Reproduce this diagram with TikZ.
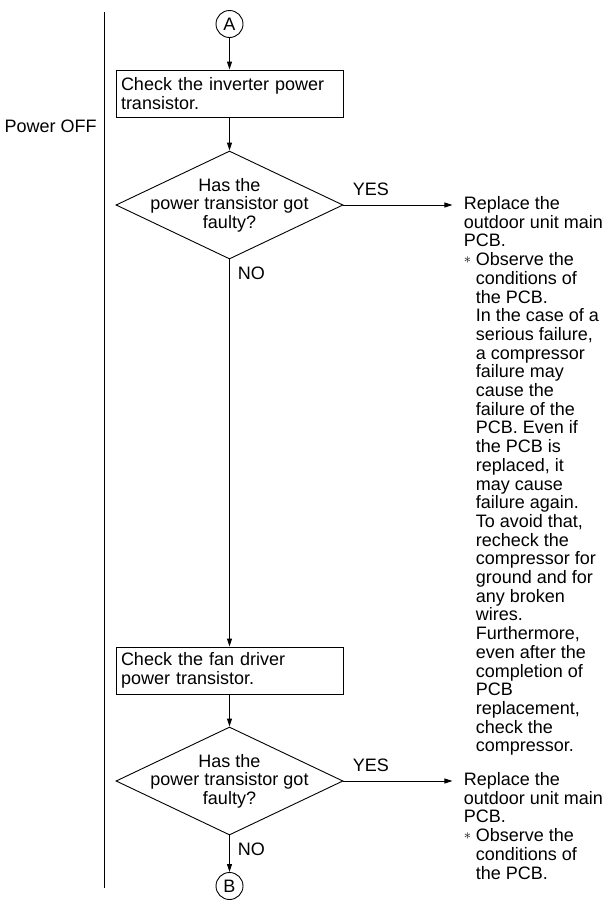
\documentclass[tikz,border=0pt]{standalone}
\usepackage{fontspec}
\setmainfont{Liberation Sans}
\usetikzlibrary{arrows.meta, shapes.geometric, positioning}

\begin{document}
\begin{tikzpicture}[
    x=1pt, y=-1pt,
    line width=0.9pt,
    font=\fontsize{18}{18.5}\selectfont,
    box/.style={draw, rectangle, align=left, text width=217pt, inner xsep=5pt, inner ysep=0pt, minimum height=47pt},
    decision/.style={draw, diamond, minimum width=227pt, minimum height=108pt, inner sep=0pt},
    connector/.style={draw, circle, minimum size=27pt, inner sep=0pt},
    question/.style={align=center, inner sep=0pt},
    remark/.style={align=left, inner sep=0pt, font=\fontsize{18}{18.7}\selectfont},
    arr/.style={-{Triangle[length=8pt, width=5pt]}},
    tag/.style={inner sep=2pt}
]
\useasboundingbox (0,0) rectangle (607,900);

% Trennlinie
\coordinate (s1) at (104,12);
\coordinate (s2) at (104,888);
\draw (s1) -- (s2);
\node[tag, anchor=east] (pwr) at (99,126) {Power OFF};

% Ablauf
\node[connector] (A) at (229.5,24) {A};
\node[box] (b1) at (229.5,93.5) {Check the inverter power\\transistor.};
\node[decision] (d1) at (229.5,205) {};
\node[question] (q1) at (d1) {Has the\\power transistor got\\faulty?};
\node[box] (b2) at (229.5,670.5) {Check the fan driver\\power transistor.};
\node[decision] (d2) at (229.5,781) {};
\node[question] (q2) at (d2) {Has the\\power transistor got\\faulty?};
\node[connector] (B) at (229.5,886) {B};

\draw[arr] (A) -- (b1);
\draw[arr] (b1) -- (d1);
\draw[arr] (d1) -- (b2);
\draw[arr] (b2) -- (d2);
\draw[arr] (d2) -- (B);

\node[tag, above right=7pt and 7pt of d1.east] (yes1) {YES};
\node[tag, above right=7pt and 7pt of d2.east] (yes2) {YES};
\node[tag, below right=5pt and 6pt of d1.south] (no1) {NO};
\node[tag, below right=5pt and 6pt of d2.south] (no2) {NO};

% YES-Zweige
\coordinate[right=109pt of d1.east] (y1);
\coordinate[right=109pt of d2.east] (y2);
\draw[arr] (d1.east) -- (y1);
\draw[arr] (d2.east) -- (y2);

\node[remark, anchor=north west] (r1) at ([xshift=11pt, yshift=9pt]y1) {Replace the\\outdoor unit main\\PCB.\\
\makebox[12pt][l]{\fontsize{14}{14}\selectfont\raisebox{2pt}{$\ast$}}Observe the\\
\hspace*{12pt}conditions of\\
\hspace*{12pt}the PCB.\\
\hspace*{12pt}In the case of a\\
\hspace*{12pt}serious failure,\\
\hspace*{12pt}a compressor\\
\hspace*{12pt}failure may\\
\hspace*{12pt}cause the\\
\hspace*{12pt}failure of the\\
\hspace*{12pt}PCB. Even if\\
\hspace*{12pt}the PCB is\\
\hspace*{12pt}replaced, it\\
\hspace*{12pt}may cause\\
\hspace*{12pt}failure again.\\
\hspace*{12pt}To avoid that,\\
\hspace*{12pt}recheck the\\
\hspace*{12pt}compressor for\\
\hspace*{12pt}ground and for\\
\hspace*{12pt}any broken\\
\hspace*{12pt}wires.\\
\hspace*{12pt}Furthermore,\\
\hspace*{12pt}even after the\\
\hspace*{12pt}completion of\\
\hspace*{12pt}PCB\\
\hspace*{12pt}replacement,\\
\hspace*{12pt}check the\\
\hspace*{12pt}compressor.};

\node[remark, anchor=north west] (r2) at ([xshift=11pt, yshift=9pt]y2) {Replace the\\outdoor unit main\\PCB.\\
\makebox[12pt][l]{\fontsize{14}{14}\selectfont\raisebox{2pt}{$\ast$}}Observe the\\
\hspace*{12pt}conditions of\\
\hspace*{12pt}the PCB.};

\end{tikzpicture}
\end{document}
